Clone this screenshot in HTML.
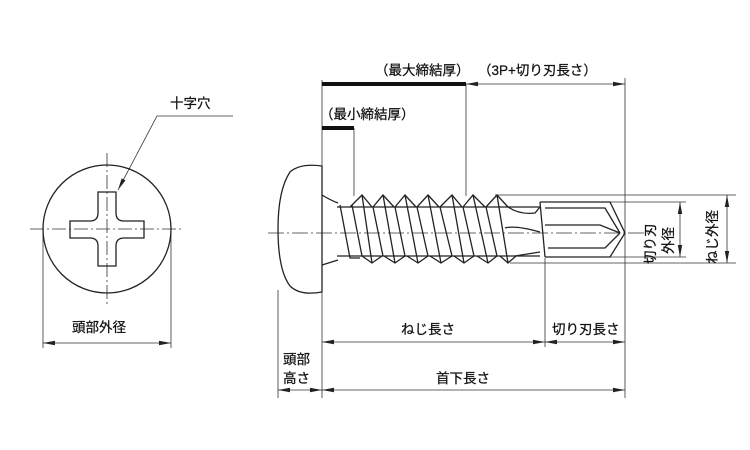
<!DOCTYPE html>
<html><head><meta charset="utf-8"><style>
html,body{margin:0;padding:0;background:#fff}
svg{display:block}
text{font-family:"Liberation Sans","Noto Sans CJK JP",sans-serif;font-size:13.5px;fill:#111;stroke:#111;stroke-width:0.25}
</style></head><body>
<svg width="750" height="450" viewBox="0 0 750 450" xmlns="http://www.w3.org/2000/svg">
<defs>
<marker id="a" viewBox="0 0 12 6" refX="12" refY="3" markerWidth="12" markerHeight="6" orient="auto-start-reverse" markerUnits="userSpaceOnUse"><path d="M0,0.8 L12,3 L0,5.2z" fill="#222"/></marker>
</defs>
<g stroke="#333" stroke-width="0.8" fill="none">
<line x1="30" y1="229" x2="184" y2="229" stroke-dasharray="14,3,2,3"/>
<line x1="107" y1="153" x2="107" y2="305" stroke-dasharray="14,3,2,3"/>
<polyline points="233,116 157,116 118,190" marker-end="url(#a)"/>
<line x1="43" y1="229" x2="43" y2="348"/>
<line x1="171" y1="229" x2="171" y2="348"/>
<line x1="43" y1="343" x2="171" y2="343" marker-start="url(#a)" marker-end="url(#a)"/>
<line x1="268" y1="233" x2="648" y2="233" stroke-dasharray="16,3,2,3"/>
<line x1="278" y1="290" x2="278" y2="398"/>
<line x1="322" y1="80" x2="322" y2="398"/>
<line x1="354" y1="128" x2="354" y2="196"/>
<line x1="466" y1="84" x2="466" y2="196"/>
<line x1="545" y1="258" x2="545" y2="347"/>
<line x1="625" y1="78" x2="625" y2="398"/>
<line x1="495" y1="195" x2="736" y2="195"/>
<line x1="510" y1="263" x2="736" y2="263"/>
<line x1="600" y1="202" x2="686" y2="202"/>
<line x1="600" y1="257" x2="686" y2="257"/>
<line x1="466" y1="84" x2="625" y2="84" marker-start="url(#a)" marker-end="url(#a)"/>
<line x1="322" y1="342" x2="545" y2="342" marker-start="url(#a)" marker-end="url(#a)"/>
<line x1="545" y1="342" x2="625" y2="342" marker-start="url(#a)" marker-end="url(#a)"/>
<line x1="322" y1="390" x2="625" y2="390" marker-start="url(#a)" marker-end="url(#a)"/>
<line x1="278" y1="390" x2="322" y2="390" marker-start="url(#a)" marker-end="url(#a)"/>
<line x1="680" y1="202" x2="680" y2="257" marker-start="url(#a)" marker-end="url(#a)"/>
<line x1="727" y1="195" x2="727" y2="263" marker-start="url(#a)" marker-end="url(#a)"/>
</g>
<rect x="322" y="82" width="144" height="4" fill="#111"/>
<rect x="322" y="126" width="32" height="4" fill="#111"/>
<g stroke="#222" stroke-width="1.3" fill="none">
<circle cx="107" cy="229" r="64"/>
<path d="M98,192 H116 V213 Q116,221 124,221 H144 V238 H124 Q116,238 116,246 V266 H98 V246 Q98,238 90,238 H70 V221 H90 Q98,221 98,213 Z"/>
<path d="M322,166 Q300,163 290,172 Q278,190 278,229 Q278,270 290,286 Q300,296 322,292 Z"/>
<path d="M322,195 Q330,200 338,203 M322,265 L338,260"/>
<line x1="337" y1="207" x2="540" y2="207"/>
<line x1="337" y1="256" x2="540" y2="256"/>
</g>
<g stroke="#222" stroke-width="1.3" fill="none">
<path d="M350,207 L362,195 L372,207 M373,207 L383,195 L394,207 M395,207 L405,195 L416,207 M417,207 L428,195 L439,207 M440,207 L452,195 L462,207 M463,207 L473,195 L485,207 M486,207 L497,195 L508,207"/>
<path d="M362,256 L372,263 L382,256 M384,256 L395,263 L405,256 M407,256 L418,263 L428,256 M430,256 L441,263 L452,256 M454,256 L464,263 L474,256 M477,256 L488,263 L497,256 M500,256 L508,263 L516,256"/>
<path d="M362,195 L372,263 M383,195 L395,263 M405,195 L418,263 M428,195 L441,263 M452,195 L464,263 M473,195 L488,263 M497,195 L508,263"/>
<path d="M340,205 L350,258 L360,258 M352,205 L362,256 M373,207 L383,256 M395,207 L405,256 M417,207 L428,256 M440,207 L452,256 M463,207 L474,256 M486,207 L497,256"/>
<path d="M508,207 Q520,215 535,213 L540,207 M505,228 Q515,225 540,232 M515,256 L540,252"/>
<path d="M540,202 H610 L625,233 L610,257 H545"/>
<line x1="540" y1="202" x2="545" y2="257"/>
<path d="M545,208 H605 L620,233 M545,225 H600 L620,233 M548,248 H605 L620,233"/>
</g>
<g>
<text x="170" y="108">十字穴</text>
<text x="72" y="332">頭部外径</text>
<text x="375" y="75">（最大締結厚）</text>
<text x="478" y="75">（3P+切り刃長さ）</text>
<text x="320" y="119">（最小締結厚）</text>
<text x="401" y="334">ねじ長さ</text>
<text x="552" y="334">切り刃長さ</text>
<text x="283" y="364">頭部</text>
<text x="283" y="383">高さ</text>
<text x="436" y="383">首下長さ</text>
<text transform="translate(655,264) rotate(-90)">切り刃</text>
<text transform="translate(673,254) rotate(-90)">外径</text>
<text transform="translate(717,264) rotate(-90)">ねじ外径</text>
</g>
</svg>
</body></html>
